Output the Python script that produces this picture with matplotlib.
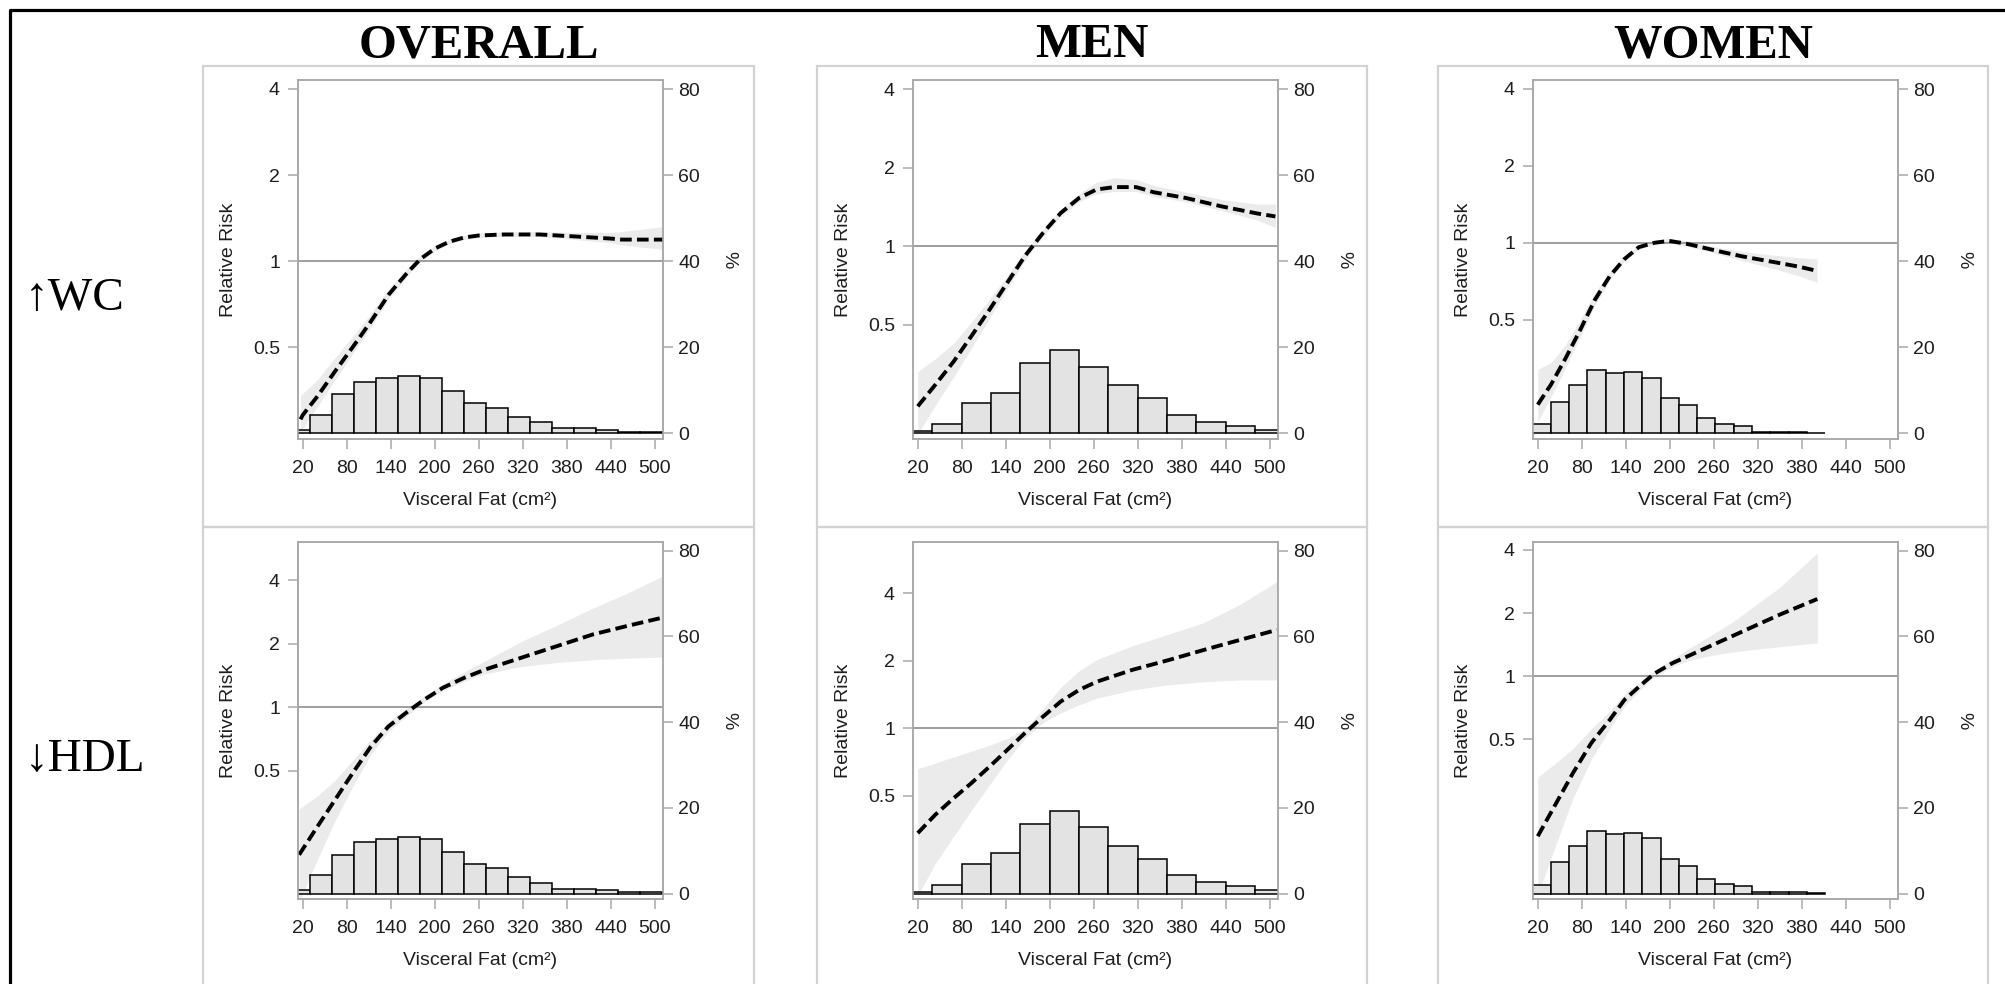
import numpy as np
import matplotlib
matplotlib.use("Agg")
import matplotlib.pyplot as plt
from matplotlib.patches import Rectangle
from matplotlib.lines import Line2D
from matplotlib.ticker import FixedLocator, NullLocator, FuncFormatter

plt.rcParams['font.family'] = ['Liberation Sans', 'DejaVu Sans']

# ---- histogram of visceral fat (% of subjects per bin) ----
overall_bin_start, overall_bin_width = 0, 30
overall_pct = [0.9, 4.3, 9.1, 12.0, 12.8, 13.3, 12.8, 9.8, 7.0, 6.0, 3.9, 2.6,
               1.2, 1.2, 0.9, 0.3, 0.3]
men_bin_start, men_bin_width = 0, 40
men_pct = [0.5, 2.1, 7.0, 9.5, 16.3, 19.3, 15.5, 11.2, 8.2, 4.3, 2.7, 1.7, 0.9]
women_bin_start, women_bin_width = 12.5, 25
women_pct = [2.1, 7.4, 11.2, 14.7, 14.0, 14.2, 12.9, 8.2, 6.5, 3.5, 2.2, 1.7,
             0.4, 0.4, 0.3, 0.1]

# ---- relative risk of raised WC ----
wc_overall_x = [17, 20, 40, 64, 88, 113, 137, 162, 181, 201, 220, 240, 260, 294, 343, 392, 440, 455, 511]
wc_overall_rr = [0.28, 0.29, 0.337, 0.412, 0.50, 0.616, 0.763, 0.908, 1.02, 1.11, 1.17, 1.21, 1.23, 1.24, 1.24, 1.22, 1.20, 1.19, 1.19]
wc_overall_lo = [0.25, 0.26, 0.31, 0.385, 0.475, 0.59, 0.74, 0.885, 1.0, 1.09, 1.15, 1.19, 1.21, 1.22, 1.22, 1.19, 1.16, 1.14, 1.10]
wc_overall_hi = [0.34, 0.345, 0.385, 0.46, 0.545, 0.655, 0.80, 0.94, 1.05, 1.135, 1.19, 1.23, 1.255, 1.265, 1.27, 1.26, 1.26, 1.27, 1.32]

wc_men_x = [20, 44, 69, 93, 118, 142, 166, 191, 215, 240, 264, 288, 318, 342, 386, 435, 483, 508]
wc_men_rr = [0.243, 0.294, 0.361, 0.451, 0.571, 0.723, 0.915, 1.125, 1.34, 1.53, 1.65, 1.685, 1.685, 1.61, 1.53, 1.42, 1.335, 1.30]
wc_men_lo = [0.19, 0.245, 0.315, 0.405, 0.53, 0.685, 0.88, 1.09, 1.30, 1.48, 1.59, 1.62, 1.62, 1.55, 1.48, 1.37, 1.26, 1.18]
wc_men_hi = [0.33, 0.37, 0.425, 0.51, 0.625, 0.77, 0.955, 1.16, 1.385, 1.59, 1.76, 1.83, 1.80, 1.71, 1.61, 1.51, 1.45, 1.45]

wc_women_x = [20, 38, 58, 78, 98, 118, 138, 158, 179, 199, 224, 249, 274, 300, 325, 350, 375, 401]
wc_women_rr = [0.233, 0.279, 0.354, 0.457, 0.599, 0.739, 0.863, 0.962, 1.0, 1.018, 0.99, 0.953, 0.917, 0.884, 0.858, 0.833, 0.808, 0.777]
wc_women_lo = [0.20, 0.25, 0.325, 0.43, 0.57, 0.715, 0.845, 0.945, 0.985, 1.0, 0.97, 0.93, 0.89, 0.85, 0.815, 0.78, 0.745, 0.70]
wc_women_hi = [0.32, 0.34, 0.40, 0.50, 0.64, 0.77, 0.885, 0.98, 1.02, 1.04, 1.015, 0.98, 0.95, 0.925, 0.905, 0.89, 0.875, 0.865]

# ---- relative risk of low HDL ----
hdl_overall_x = [15, 40, 64, 88, 113, 137, 162, 186, 211, 240, 269, 318, 367, 416, 465, 511]
hdl_overall_rr = [0.20, 0.272, 0.364, 0.487, 0.652, 0.812, 0.947, 1.088, 1.236, 1.378, 1.51, 1.716, 1.95, 2.215, 2.44, 2.66]
hdl_overall_lo = [0.12, 0.19, 0.29, 0.42, 0.60, 0.77, 0.91, 1.06, 1.20, 1.33, 1.44, 1.56, 1.63, 1.68, 1.71, 1.73]
hdl_overall_hi = [0.33, 0.38, 0.45, 0.56, 0.70, 0.855, 0.99, 1.13, 1.29, 1.47, 1.66, 2.05, 2.45, 2.95, 3.5, 4.19]

hdl_men_x = [20, 44, 69, 93, 118, 142, 166, 191, 215, 240, 264, 313, 362, 410, 459, 510]
hdl_men_rr = [0.341, 0.412, 0.488, 0.569, 0.675, 0.80, 0.95, 1.127, 1.314, 1.48, 1.61, 1.82, 2.01, 2.23, 2.47, 2.74]
hdl_men_lo = [0.18, 0.25, 0.33, 0.43, 0.56, 0.72, 0.90, 1.06, 1.17, 1.27, 1.36, 1.48, 1.56, 1.61, 1.64, 1.64]
hdl_men_hi = [0.66, 0.70, 0.745, 0.79, 0.84, 0.90, 0.99, 1.22, 1.52, 1.80, 2.02, 2.33, 2.62, 2.95, 3.55, 4.5]

hdl_women_x = [20, 42.7, 67.9, 93, 118.2, 138.4, 158.5, 178.7, 203.9, 224, 254.3, 284.5, 314.7, 350, 401.4]
hdl_women_rr = [0.172, 0.239, 0.344, 0.479, 0.618, 0.771, 0.892, 1.026, 1.154, 1.241, 1.386, 1.547, 1.727, 1.964, 2.333]
hdl_women_lo = [0.09, 0.15, 0.26, 0.40, 0.56, 0.72, 0.85, 0.99, 1.11, 1.18, 1.25, 1.30, 1.34, 1.38, 1.44]
hdl_women_hi = [0.33, 0.38, 0.45, 0.56, 0.68, 0.82, 0.93, 1.06, 1.21, 1.34, 1.55, 1.80, 2.15, 2.65, 3.87]

# relative-risk axis range per panel (so that the log axis lines up with the % axis)
rr_limits = {
    ('wc', 'overall'): (0.239, 4.30),
    ('wc', 'men'): (0.182, 4.34),
    ('wc', 'women'): (0.171, 4.33),
    ('hdl', 'overall'): (0.123, 6.09),
    ('hdl', 'men'): (0.173, 6.77),
    ('hdl', 'women'): (0.086, 4.38),
}

col_titles = ['OVERALL', 'MEN', 'WOMEN']
row_titles = ['\u2191WC', '\u2193HDL']
x_ticks = [20, 80, 140, 200, 260, 320, 380, 440, 500]
pct_ticks = [0, 20, 40, 60, 80]
rr_ticks = [0.5, 1, 2, 4]

W, H = 2006, 984
fig = plt.figure(figsize=(W / 100, H / 100), dpi=100)


def fx(px):
    return px / W


def fy(py):
    return 1 - py / H


GRAY_AXIS = '#a8a8a8'
TEXT = '#1e1e1e'

col_ax_left = [298, 913, 1533]
ax_width = 365
row_ax_top = [80, 541.7]
row_ax_bottom = [439, 899.3]
col_frame = [(203, 754), (817, 1367), (1438, 1988)]
row_frame = [(66, 526.5), (526.5, 995)]

hist = {
    'overall': (overall_bin_start, overall_bin_width, overall_pct),
    'men': (men_bin_start, men_bin_width, men_pct),
    'women': (women_bin_start, women_bin_width, women_pct),
}
curves = {
    ('wc', 'overall'): (wc_overall_x, wc_overall_rr, wc_overall_lo, wc_overall_hi),
    ('wc', 'men'): (wc_men_x, wc_men_rr, wc_men_lo, wc_men_hi),
    ('wc', 'women'): (wc_women_x, wc_women_rr, wc_women_lo, wc_women_hi),
    ('hdl', 'overall'): (hdl_overall_x, hdl_overall_rr, hdl_overall_lo, hdl_overall_hi),
    ('hdl', 'men'): (hdl_men_x, hdl_men_rr, hdl_men_lo, hdl_men_hi),
    ('hdl', 'women'): (hdl_women_x, hdl_women_rr, hdl_women_lo, hdl_women_hi),
}

# outer frame (top and left edges)
fig.add_artist(Line2D([fx(10), fx(10), 1.0], [0.0, fy(10), fy(10)],
                      transform=fig.transFigure, color='black', lw=2.3))

# light gray panel frames
for (y0, y1) in row_frame:
    for (x0, x1) in col_frame:
        fig.add_artist(Rectangle((fx(x0), fy(y1)), fx(x1) - fx(x0), fy(y0) - fy(y1),
                                 transform=fig.transFigure, fill=False,
                                 edgecolor='#d2d2d2', lw=1.6))

for j, t in enumerate(col_titles):
    cx = (col_frame[j][0] + col_frame[j][1]) / 2
    fig.text(fx(cx), fy(57), t, ha='center', va='baseline', fontsize=35,
             fontweight='bold', family=['Liberation Serif', 'DejaVu Serif'])

for i, t in enumerate(row_titles):
    cy = [299, 760][i]
    fig.text(fx(25), fy(cy), t, ha='left', va='center', fontsize=34,
             family=['Liberation Serif', 'DejaVu Serif'])

outcomes = ['wc', 'hdl']
groups = ['overall', 'men', 'women']

for i, outcome in enumerate(outcomes):
    for j, group in enumerate(groups):
        rect = [fx(col_ax_left[j]), fy(row_ax_bottom[i]), ax_width / W,
                (row_ax_bottom[i] - row_ax_top[i]) / H]
        ax = fig.add_axes(rect)
        ax2 = ax.twinx()

        x, rr, lo, hi = curves[(outcome, group)]
        ax.fill_between(x, lo, hi, color='#ebebeb', lw=0, zorder=1)
        ax.axhline(1, color='#8e8e8e', lw=1.2, zorder=2)
        ax.plot(x, rr, color='black', lw=2.8, ls=(0, (3.0, 1.35)),
                dash_capstyle='butt', zorder=3)

        ax.set_yscale('log', base=2)
        ax.set_ylim(*rr_limits[(outcome, group)])
        ax.yaxis.set_major_locator(FixedLocator(rr_ticks))
        ax.yaxis.set_minor_locator(NullLocator())
        ax.yaxis.set_major_formatter(FuncFormatter(lambda v, p: f'{v:g}'))
        ax.set_xlim(13.5, 511.5)
        ax.set_xticks(x_ticks)

        start, width, pct = hist[group]
        lefts = start + width * np.arange(len(pct))
        ax2.bar(lefts, pct, width=width, align='edge', color='#e3e3e3',
                edgecolor='black', lw=1.1)
        ax2.set_ylim(-1.3, 82.1)
        ax2.set_yticks(pct_ticks)
        ax2.set_xlim(13.5, 511.5)

        for a in (ax, ax2):
            for s in a.spines.values():
                s.set_color(GRAY_AXIS)
                s.set_linewidth(1.1)
            a.patch.set_visible(False)
        ax.tick_params(axis='x', length=7, width=1.1, color=GRAY_AXIS,
                       labelsize=14, labelcolor=TEXT, pad=8)
        ax.tick_params(axis='y', length=7, width=1.1, color=GRAY_AXIS,
                       labelsize=14, labelcolor=TEXT, pad=6)
        ax2.tick_params(axis='y', length=7, width=1.1, color=GRAY_AXIS,
                        labelsize=14, labelcolor=TEXT, pad=4)

        ax.set_xlabel('Visceral Fat (cm\u00b2)', fontsize=14, color=TEXT)
        ax.xaxis.set_label_coords(0.5, -0.148)
        ax.set_ylabel('Relative Risk', fontsize=14, color=TEXT)
        ax.yaxis.set_label_coords(-0.168, 0.5)
        ax2.set_ylabel('%', fontsize=14, color=TEXT, rotation=270, va='center')
        ax2.yaxis.set_label_coords(1.181, 0.5)

fig.savefig('out.png', dpi=100, facecolor='white')
